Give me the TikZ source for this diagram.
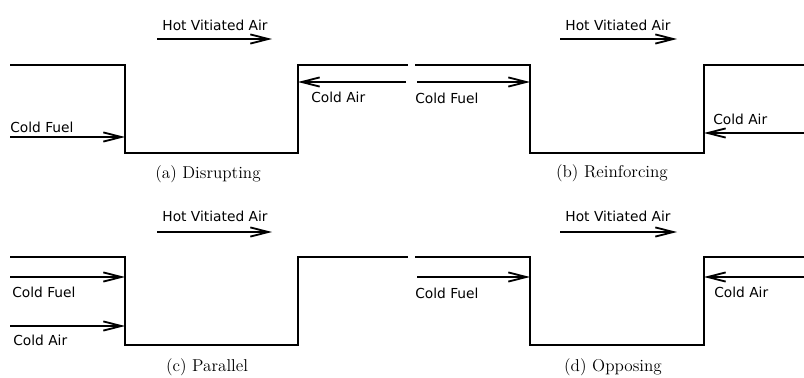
\documentclass[tikz,border=0pt]{standalone}
\usepackage{fontspec}
\usepackage{tikz}
\usetikzlibrary{arrows.meta}
\newfontfamily\etqfont{DejaVu Sans}

\begin{document}
\begin{tikzpicture}[
  x=0.025cm, y=-0.025cm,
  pared/.style={line width=2pt, line join=miter},
  flujo/.style={line width=1.3pt, -{Straight Barb[length=4.5mm, width=2.3mm]}},
  etq/.style={font=\etqfont\fontsize{9.8}{12}\selectfont, inner sep=0pt},
  pie/.style={font=\fontsize{12.2}{14}\selectfont, inner sep=0pt}
]
\useasboundingbox (0,0) rectangle (804,377);
% DISRUPTING
\begin{scope}
  \coordinate (ltA) at (125,65);
  \coordinate (lbA) at (125,153);
  \coordinate (rbA) at (298,153);
  \coordinate (rtA) at (298,65);
  \draw[pared] (10,65) -- (ltA) -- (lbA) -- (rbA) -- (rtA) -- (408,65);
  \node[etq, anchor=base] (hotA) at (215,30) {Hot Vitiated Air};
  \coordinate (hotA0) at (157,39);
  \coordinate (hotA1) at (272,39);
  \draw[flujo] (hotA0) -- (hotA1);
  \coordinate (fuelA0) at (10,137);
  \draw[flujo] (fuelA0) -- (fuelA0 -| ltA);
  \node[etq, anchor=base west] (fuelA) at (10,132) {Cold Fuel};
  \coordinate (airA0) at (406,82);
  \draw[flujo] (airA0) -- (airA0 -| rtA);
  \node[etq, anchor=base west] (airA) at (311,102) {Cold Air};
  \node[pie, anchor=base] (capA) at (208,178) {(a) Disrupting};
\end{scope}
% REINFORCING
\begin{scope}[shift={(405,0)}]
  \coordinate (ltB) at (125,65);
  \coordinate (lbB) at (125,153);
  \coordinate (rbB) at (299,153);
  \coordinate (rtB) at (299,65);
  \draw[pared] (10,65) -- (ltB) -- (lbB) -- (rbB) -- (rtB) -- (400,65);
  \node[etq, anchor=base] (hotB) at (213,30) {Hot Vitiated Air};
  \coordinate (hotB0) at (155,39);
  \coordinate (hotB1) at (272,39);
  \draw[flujo] (hotB0) -- (hotB1);
  \coordinate (fuelB0) at (12,82);
  \draw[flujo] (fuelB0) -- (fuelB0 -| ltB);
  \node[etq, anchor=base west] (fuelB) at (10,103) {Cold Fuel};
  \coordinate (airB0) at (400,133);
  \draw[flujo] (airB0) -- (airB0 -| rtB);
  \node[etq, anchor=base west] (airB) at (308,124) {Cold Air};
  \node[pie, anchor=base] (capB) at (207,177) {(b) Reinforcing};
\end{scope}
% PARALLEL
\begin{scope}[shift={(0,192)}]
  \coordinate (ltC) at (125,65);
  \coordinate (lbC) at (125,153);
  \coordinate (rbC) at (298,153);
  \coordinate (rtC) at (298,65);
  \draw[pared] (10,65) -- (ltC) -- (lbC) -- (rbC) -- (rtC) -- (408,65);
  \node[etq, anchor=base] (hotC) at (215,29) {Hot Vitiated Air};
  \coordinate (hotC0) at (157,40);
  \coordinate (hotC1) at (272,40);
  \draw[flujo] (hotC0) -- (hotC1);
  \coordinate (fuelC0) at (10,85);
  \draw[flujo] (fuelC0) -- (fuelC0 -| ltC);
  \node[etq, anchor=base west] (fuelC) at (12,105) {Cold Fuel};
  \coordinate (airC0) at (10,134);
  \draw[flujo] (airC0) -- (airC0 -| ltC);
  \node[etq, anchor=base west] (airC) at (13,153) {Cold Air};
  \node[pie, anchor=base] (capC) at (207,179) {(c) Parallel};
\end{scope}
% OPPOSING
\begin{scope}[shift={(405,192)}]
  \coordinate (ltD) at (125,65);
  \coordinate (lbD) at (125,153);
  \coordinate (rbD) at (299,153);
  \coordinate (rtD) at (299,65);
  \draw[pared] (10,65) -- (ltD) -- (lbD) -- (rbD) -- (rtD) -- (400,65);
  \node[etq, anchor=base] (hotD) at (213,29) {Hot Vitiated Air};
  \coordinate (hotD0) at (155,40);
  \coordinate (hotD1) at (272,40);
  \draw[flujo] (hotD0) -- (hotD1);
  \coordinate (fuelD0) at (12,85);
  \draw[flujo] (fuelD0) -- (fuelD0 -| ltD);
  \node[etq, anchor=base west] (fuelD) at (10,106) {Cold Fuel};
  \coordinate (airD0) at (400,85);
  \draw[flujo] (airD0) -- (airD0 -| rtD);
  \node[etq, anchor=base west] (airD) at (309,105) {Cold Air};
  \node[pie, anchor=base] (capD) at (208,179) {(d) Opposing};
\end{scope}
\end{tikzpicture}
\end{document}
